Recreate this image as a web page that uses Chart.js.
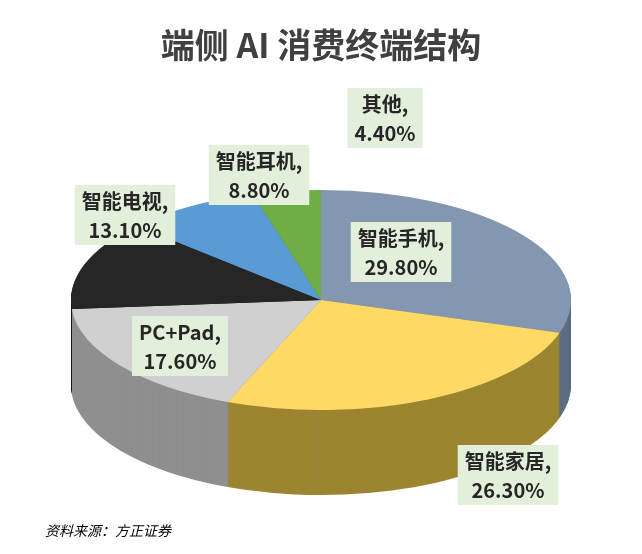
<!DOCTYPE html>
<html><head><meta charset="utf-8">
<script src="https://cdn.jsdelivr.net/npm/chart.js@4"></script>
<style>body{margin:0;background:#fff}#w{position:relative;width:642px;height:554px}</style>
</head><body><div id="w"><canvas id="c" width="642" height="554"></canvas></div>
<script>
const categories = ['智能手机','智能家居','PC+Pad','智能电视','智能耳机','其他'];
const values = [29.8, 26.3, 17.6, 13.1, 8.8, 4.4];
const topColors = ['#8497B0','#FFD966','#D0D0D0','#262626','#5B9BD5','#70AD47'];
const sideColors = ['#5E6D82','#9C8530','#8F8F8F','#111111','#3A6E9E','#4B7A2F'];
const labelBoxes = [[401,252],[508,475],[180,346],[125,215],[259,175],[385,118]];
const SY = 0.44, DEPTH = 85;
const pie3d = {
  id:'pie3d',
  beforeDatasetsDraw(chart){
    const ctx = chart.ctx, arcs = chart.getDatasetMeta(0).data;
    const cx = arcs[0].x, cy = arcs[0].y;
    ctx.save();
    for(let d=DEPTH; d>0; d--){
      arcs.forEach((a,i)=>{
        ctx.save();
        ctx.translate(cx, cy+d); ctx.scale(1,SY); ctx.translate(-cx,-cy);
        ctx.beginPath(); ctx.moveTo(cx,cy);
        ctx.arc(cx,cy,a.outerRadius,a.startAngle,a.endAngle); ctx.closePath();
        ctx.fillStyle = sideColors[i]; ctx.fill();
        ctx.restore();
      });
    }
    ctx.restore();
    ctx.save();
    ctx.translate(cx,cy); ctx.scale(1,SY); ctx.translate(-cx,-cy);
  },
  afterDatasetsDraw(chart){ chart.ctx.restore(); },
  afterDraw(chart){
    const ctx = chart.ctx;
    ctx.save();
    ctx.font = 'bold 20px "Noto Sans CJK SC", "Liberation Sans", sans-serif';
    ctx.textAlign='center'; ctx.textBaseline='middle';
    categories.forEach((c,i)=>{
      const [x,y] = labelBoxes[i];
      const l1 = c + ',', l2 = values[i].toFixed(2)+'%';
      const w = Math.max(ctx.measureText(l1).width, ctx.measureText(l2).width)+14;
      ctx.fillStyle='#E2EFDA'; ctx.fillRect(x-w/2,y-30,w,60);
      ctx.fillStyle='#262626';
      ctx.fillText(l1,x,y-14); ctx.fillText(l2,x,y+15);
    });
    ctx.restore();
  }
};
new Chart(document.getElementById('c'),{
  type:'pie',
  data:{labels:categories,datasets:[{data:values,backgroundColor:topColors,borderWidth:0}]},
  options:{responsive:false,animation:false,
    layout:{padding:{top:50,bottom:4,left:71,right:71}},
    plugins:{legend:{display:false},tooltip:{enabled:false},
      title:{display:false}}},
  plugins:[pie3d,{id:'txt',afterDraw(chart){
    const ctx=chart.ctx; ctx.save();
    ctx.fillStyle='#404040'; ctx.textAlign='center'; ctx.textBaseline='middle';
    ctx.font='bold 34px "Noto Sans CJK SC", sans-serif';
    ctx.fillText('端侧 AI 消费终端结构',321,45);
    ctx.textAlign='left'; ctx.fillStyle='#000';
    ctx.font='italic 14px "Noto Sans CJK SC", sans-serif';
    ctx.fillText('资料来源：方正证券',45,531);
    ctx.restore();}}]
});
</script></body></html>
